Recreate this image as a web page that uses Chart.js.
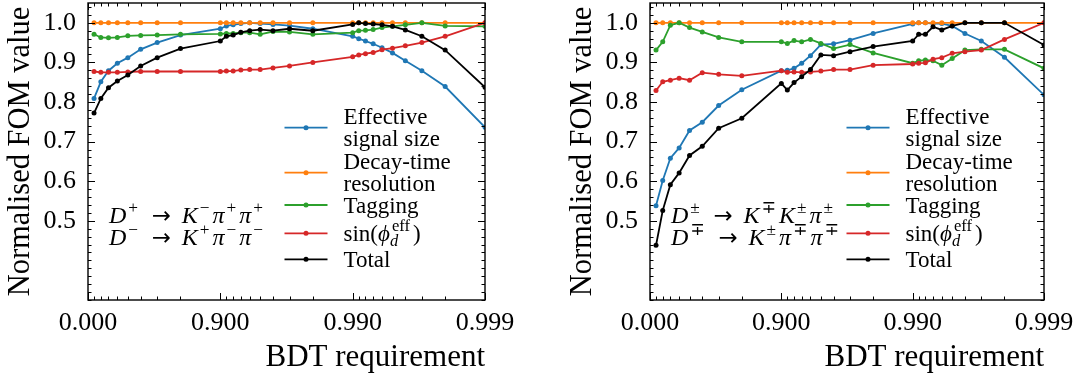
<!DOCTYPE html>
<html>
<head>
<meta charset="utf-8">
<style>
  body { margin: 0; background: #fff; width: 1085px; height: 381px; overflow: hidden; position: relative; }
  canvas { position: absolute; top: 0; }
  #kpipi { left: 0; }
  #kkpi { left: 562px; }
</style>
<script src="https://cdn.jsdelivr.net/npm/chart.js"></script>
</head>
<body>
<canvas id="kpipi" width="540" height="381"></canvas>
<canvas id="kkpi" width="523" height="381"></canvas>
<script>
// BDT requirement values the figure of merit was evaluated at
const bdtCuts = [0.1, 0.2, 0.3, 0.4, 0.5, 0.6, 0.7, 0.8, 0.9,
  0.91, 0.92, 0.93, 0.94, 0.95, 0.96, 0.97, 0.98, 0.99,
  0.991, 0.992, 0.993, 0.994, 0.995, 0.996, 0.997, 0.998, 0.999];

// axis ticks
const bdtTicks = [0.0, 0.9, 0.99, 0.999];
const fomTicks = [0.5, 0.6, 0.7, 0.8, 0.9, 1.0];

// D+ -> K- pi+ pi+
const kpipiSignal = [0.809, 0.851, 0.879, 0.898, 0.912, 0.933, 0.950, 0.969, 0.985,
  0.992, 0.995, 0.998, 1.000, 0.998, 0.996, 0.993, 0.985, 0.966,
  0.960, 0.954, 0.947, 0.937, 0.924, 0.904, 0.879, 0.839, 0.736];
const kpipiResolution = [1, 1, 1, 1, 1, 1, 1, 1, 1,
  1, 1, 1, 1, 1, 1, 1, 1, 1,
  1, 1, 1, 1, 1, 1, 1, 1, 1];
const kpipiTagging = [0.971, 0.963, 0.962, 0.963, 0.967, 0.968, 0.969, 0.971, 0.972,
  0.973, 0.973, 0.975, 0.975, 0.971, 0.978, 0.977, 0.971, 0.975,
  0.980, 0.981, 0.983, 0.988, 0.991, 0.995, 1.000, 0.992, 0.991];
const kpipiSinPhi = [0.877, 0.875, 0.875, 0.875, 0.876, 0.877, 0.877, 0.877, 0.877,
  0.878, 0.878, 0.881, 0.882, 0.882, 0.886, 0.891, 0.900, 0.914,
  0.919, 0.922, 0.925, 0.932, 0.936, 0.942, 0.950, 0.966, 1.000];
const kpipiTotal = [0.772, 0.809, 0.836, 0.853, 0.868, 0.891, 0.912, 0.935, 0.954,
  0.966, 0.969, 0.976, 0.980, 0.983, 0.980, 0.985, 0.980, 0.996,
  1.000, 0.998, 0.997, 0.995, 0.991, 0.982, 0.966, 0.931, 0.837];

// D+ -> K- K+ pi+ and D+ -> K+ pi- pi+ combined
const kkpiSignal = [0.538, 0.602, 0.658, 0.684, 0.728, 0.749, 0.791, 0.831, 0.879,
  0.880, 0.885, 0.898, 0.917, 0.945, 0.947, 0.956, 0.973, 0.997,
  1.000, 1.000, 0.998, 0.998, 0.992, 0.973, 0.954, 0.913, 0.818];
const kkpiResolution = [1, 1, 1, 1, 1, 1, 1, 1, 1,
  1, 1, 1, 1, 1, 1, 1, 1, 1,
  1, 1, 1, 1, 1, 1, 1, 1, 1];
const kkpiTagging = [0.931, 0.952, 0.994, 1.000, 0.988, 0.977, 0.963, 0.952, 0.952,
  0.948, 0.955, 0.952, 0.958, 0.948, 0.935, 0.945, 0.924, 0.898,
  0.904, 0.906, 0.904, 0.893, 0.910, 0.931, 0.933, 0.933, 0.885];
const kkpiSinPhi = [0.829, 0.851, 0.855, 0.860, 0.855, 0.874, 0.870, 0.866, 0.879,
  0.875, 0.876, 0.875, 0.876, 0.878, 0.882, 0.882, 0.893, 0.896,
  0.898, 0.899, 0.908, 0.912, 0.923, 0.927, 0.931, 0.958, 1.000];
const kkpiTotal = [0.438, 0.526, 0.591, 0.621, 0.665, 0.688, 0.734, 0.759, 0.847,
  0.830, 0.849, 0.864, 0.882, 0.919, 0.917, 0.927, 0.940, 0.954,
  0.971, 0.971, 0.990, 0.982, 0.992, 1.000, 1.000, 1.000, 0.944];

const colours = ['#1f77b4', '#ff7f0e', '#2ca02c', '#d62728', '#000000'];
const serif = '"Liberation Serif", "DejaVu Serif", serif';

// legend labels as runs of text: i = italic, sup/sub = stacked scripts
const legendRows = [
  [[{ t: 'Effective' }], [{ t: 'signal size' }]],
  [[{ t: 'Decay-time' }], [{ t: 'resolution' }]],
  [[{ t: 'Tagging' }]],
  [[{ t: 'sin(' }, { t: 'ϕ', i: true }, { sup: 'eff', sub: 'd' }, { t: ')' }]],
  [[{ t: 'Total' }]]
];
const legendNames = ['Effective signal size', 'Decay-time resolution', 'Tagging', 'sin(phi_d^eff)', 'Total'];

const arrow = { t: '→', arrow: true };
const kpipiDecay = [
  [{ t: 'D', i: true }, { sup: '+' }, arrow, { t: 'K', i: true }, { sup: '−' },
   { t: 'π', i: true }, { sup: '+' }, { t: 'π', i: true }, { sup: '+' }],
  [{ t: 'D', i: true }, { sup: '−' }, arrow, { t: 'K', i: true }, { sup: '+' },
   { t: 'π', i: true }, { sup: '−' }, { t: 'π', i: true }, { sup: '−' }]
];
const kkpiDecay = [
  [{ t: 'D', i: true }, { sup: '±' }, arrow, { t: 'K', i: true }, { sup: '∓' },
   { t: 'K', i: true }, { sup: '±' }, { t: 'π', i: true }, { sup: '±' }],
  [{ t: 'D', i: true }, { sup: '∓' }, arrow, { t: 'K', i: true }, { sup: '±' },
   { t: 'π', i: true }, { sup: '∓' }, { t: 'π', i: true }, { sup: '∓' }]
];

// BDT requirement is shown on a -log10(1 - cut) axis
const toAxis = b => -Math.log10(1 - b);

function font(size, italic) {
  return (italic ? 'italic ' : '') + size + 'px ' + serif;
}

// draw a line of mixed text starting at x with its visual centre at yc
function drawRuns(ctx, runs, x, yc, size) {
  const base = yc + size * 0.33;
  ctx.textBaseline = 'alphabetic';
  ctx.textAlign = 'left';
  for (const r of runs) {
    if (r.arrow) {
      // relation arrow with thick spacing either side
      x += size * 0.45;
      ctx.font = (size * 0.95) + 'px "DejaVu Sans", sans-serif';
      ctx.fillText(r.t, x, base);
      x += ctx.measureText(r.t).width + size * 0.45;
    } else if (r.t !== undefined) {
      ctx.font = font(size, r.i);
      ctx.fillText(r.t, x, base);
      x += ctx.measureText(r.t).width;
    } else {
      const s = size * 0.72;
      let w = 0;
      if (r.sup) {
        ctx.font = font(s, false);
        ctx.fillText(r.sup, x + 2, base - size * 0.42);
        w = Math.max(w, ctx.measureText(r.sup).width + 2);
      }
      if (r.sub) {
        ctx.font = font(s, true);
        ctx.fillText(r.sub, x, base + size * 0.22);
        w = Math.max(w, ctx.measureText(r.sub).width);
      }
      x += w + 3;
    }
  }
}

const minorX = [];
for (let n = 0; n < 3; n++) {
  for (let k = 2; k <= 9; k++) minorX.push(n + 1 - Math.log10(k));
}
const minorY = [];
for (let v = 0.30; v < 1.05; v += 0.02) minorY.push(Math.round(v * 100) / 100);

// inward ticks on all four sides plus the frame
const frameTicks = {
  id: 'frameTicks',
  afterDatasetsDraw(chart) {
    const { ctx, chartArea: a, scales: { x, y } } = chart;
    ctx.save();
    ctx.strokeStyle = '#000';
    ctx.lineWidth = 1;
    ctx.beginPath();
    const tickX = (v, len) => {
      const p = Math.round(x.getPixelForValue(v)) + 0.5;
      ctx.moveTo(p, a.bottom); ctx.lineTo(p, a.bottom - len);
      ctx.moveTo(p, a.top); ctx.lineTo(p, a.top + len);
    };
    const tickY = (v, len) => {
      const p = Math.round(y.getPixelForValue(v)) + 0.5;
      ctx.moveTo(a.left, p); ctx.lineTo(a.left + len, p);
      ctx.moveTo(a.right, p); ctx.lineTo(a.right - len, p);
    };
    bdtTicks.forEach(b => tickX(toAxis(b), 7));
    minorX.forEach(v => tickX(v, 3.5));
    fomTicks.forEach(v => tickY(v, 7));
    minorY.filter(v => !fomTicks.some(m => Math.abs(m - v) < 1e-6)).forEach(v => tickY(v, 3.5));
    ctx.stroke();
    ctx.lineWidth = 1.4;
    ctx.strokeRect(a.left, a.top, a.right - a.left, a.bottom - a.top);
    ctx.restore();
  }
};

// legend without a box, and the decay label
const fomLegend = {
  id: 'fomLegend',
  afterDraw(chart, args, opts) {
    const { ctx, chartArea: a } = chart;
    ctx.save();
    ctx.fillStyle = '#000';
    const rowY = [124.7, 169.7, 202, 230.3, 256.3];
    chart.data.datasets.forEach((ds, i) => {
      const yc = a.top + rowY[i];
      ctx.strokeStyle = ds.borderColor;
      ctx.lineWidth = 1.8;
      ctx.beginPath();
      ctx.moveTo(a.left + 196.5, yc);
      ctx.lineTo(a.left + 239.5, yc);
      ctx.stroke();
      ctx.fillStyle = ds.borderColor;
      ctx.beginPath();
      ctx.arc(a.left + 218, yc, 2.5, 0, Math.PI * 2);
      ctx.fill();
      ctx.fillStyle = '#000';
      const lines = legendRows[i];
      if (lines.length === 1) {
        drawRuns(ctx, lines[0], a.left + 255.5, yc, 23);
      } else {
        drawRuns(ctx, lines[0], a.left + 255.5, yc - 11.5, 23);
        drawRuns(ctx, lines[1], a.left + 255.5, yc + 11, 23);
      }
    });
    drawRuns(ctx, opts.decay[0], a.left + 21, a.top + 212, 24);
    drawRuns(ctx, opts.decay[1], a.left + 21, a.top + 233.7, 24);
    ctx.restore();
  }
};

function makeChart(id, series, decay, rightPad) {
  const datasets = series.map((vals, i) => ({
    label: legendNames[i],
    data: vals.map((v, j) => ({ x: toAxis(bdtCuts[j]), y: v })),
    borderColor: colours[i],
    backgroundColor: colours[i],
    pointBackgroundColor: colours[i],
    borderWidth: 1.8,
    pointRadius: 2.5,
    pointBorderWidth: 0,
    pointHoverRadius: 0,
    tension: 0,
    clip: 0,
    order: series.length - i
  }));

  return new Chart(document.getElementById(id), {
    type: 'line',
    data: { datasets },
    plugins: [frameTicks, fomLegend],
    options: {
      responsive: false,
      animation: false,
      events: [],
      layout: { padding: { top: 3, right: rightPad, left: 0, bottom: 0 }, autoPadding: false },
      plugins: {
        legend: { display: false },
        tooltip: { enabled: false },
        fomLegend: { decay }
      },
      scales: {
        x: {
          type: 'linear',
          min: 0,
          max: 3,
          grid: { display: false, drawTicks: false },
          border: { display: false },
          afterBuildTicks: s => { s.ticks = bdtTicks.map(b => ({ value: toAxis(b) })); },
          afterFit: s => { s.height = 81; s.paddingLeft = 0; s.paddingRight = 0; },
          ticks: {
            color: '#000',
            font: { family: serif, size: 26, lineHeight: 1 },
            padding: 10,
            maxRotation: 0,
            autoSkip: false,
            callback: (v, idx) => bdtTicks[idx].toFixed(3)
          },
          title: {
            display: true,
            text: 'BDT requirement',
            align: 'end',
            color: '#000',
            font: { family: serif, size: 31 },
            padding: { top: 0, bottom: 5 }
          }
        },
        y: {
          min: 0.3,
          max: 1.05,
          grid: { display: false, drawTicks: false },
          border: { display: false },
          afterBuildTicks: s => { s.ticks = fomTicks.map(v => ({ value: v })); },
          afterFit: s => { s.width = 88; s.paddingTop = 0; s.paddingBottom = 0; },
          ticks: {
            color: '#000',
            font: { family: serif, size: 26 },
            padding: 12,
            autoSkip: false,
            callback: v => v.toFixed(1)
          },
          title: {
            display: true,
            text: 'Normalised FOM value',
            color: '#000',
            font: { family: serif, size: 30.5 },
            padding: { top: 3, bottom: 0 }
          }
        }
      }
    }
  });
}

makeChart('kpipi', [kpipiSignal, kpipiResolution, kpipiTagging, kpipiSinPhi, kpipiTotal], kpipiDecay, 55);
makeChart('kkpi', [kkpiSignal, kkpiResolution, kkpiTagging, kkpiSinPhi, kkpiTotal], kkpiDecay, 41);
</script>
</body>
</html>
